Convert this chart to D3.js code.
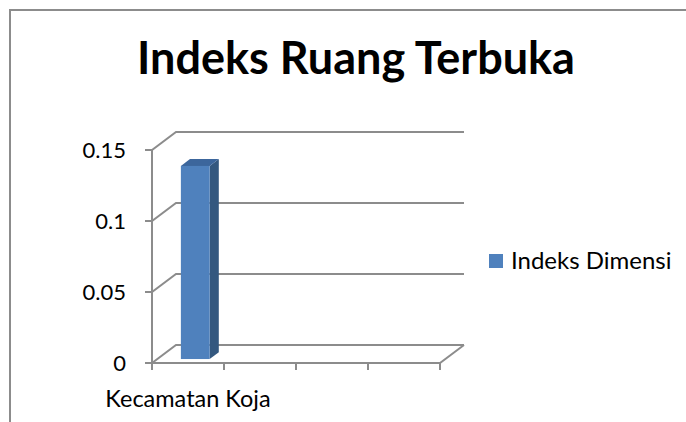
<!DOCTYPE html>
<html lang="en">
<head>
    <meta charset="UTF-8">
    <title>Indeks Ruang Terbuka</title>
    <script src="https://d3js.org/d3.v7.min.js"></script>
    <style>
        body {
            margin: 0;
            background: #fff;
        }
        text {
            font-family: Lato, "Open Sans", sans-serif;
            fill: #000;
        }
    </style>
</head>
<body>
    <svg id="chart" width="686" height="422"></svg>

    <script>
        // chart data
        const title = "Indeks Ruang Terbuka";
        const categories = ["Kecamatan Koja", "", "", ""];
        const seriesName = "Indeks Dimensi";
        const values = [0.136, null, null, null];
        const yTicks = [0, 0.05, 0.1, 0.15];

        const svg = d3.select("#chart");
        const gridColor = "#8c8c8c";

        // 3d depth offset of the back wall
        const depth = { dx: 24, dy: -18 };

        const x = d3.scaleBand()
            .domain(d3.range(categories.length))
            .range([152, 440])
            .padding(0);

        const y = d3.scaleLinear()
            .domain([0, 0.15])
            .range([363, 150]);

        // outer frame (top and left edges only visible)
        svg.append("path")
            .attr("d", "M10,422 V10 H686")
            .attr("fill", "none")
            .attr("stroke", gridColor)
            .attr("stroke-width", 2);

        // title
        svg.append("text")
            .attr("x", 356)
            .attr("y", 74)
            .attr("text-anchor", "middle")
            .attr("font-size", "45px")
            .attr("font-weight", "bold")
            .text(title);

        const grid = svg.append("g")
            .attr("stroke", gridColor)
            .attr("stroke-width", 2)
            .attr("fill", "none");

        // back wall gridlines + diagonals on the side wall
        yTicks.forEach(t => {
            let yf = y(t), yb = y(t) + depth.dy;
            let xl = x.range()[0], xb = xl + depth.dx;
            grid.append("path")
                .attr("d", `M${xl - 7},${yf} H${xl} L${xb},${yb} H${x.range()[1] + depth.dx}`);
        });

        // floor front edge and right diagonal
        let x0 = x.range()[0], x1 = x.range()[1];
        grid.append("path")
            .attr("d", `M${x0},${y(0)} H${x1} L${x1 + depth.dx},${y(0) + depth.dy}`);

        // vertical axis line
        grid.append("line")
            .attr("x1", x0).attr("x2", x0)
            .attr("y1", y(0.15)).attr("y2", y(0));

        // category ticks
        d3.range(categories.length + 1).forEach(i => {
            let tx = x0 + i * x.bandwidth();
            grid.append("line")
                .attr("x1", tx).attr("x2", tx)
                .attr("y1", y(0)).attr("y2", y(0) + 7);
        });

        // y tick labels
        svg.append("g").selectAll("text")
            .data(yTicks)
            .join("text")
            .attr("x", 126)
            .attr("y", d => y(d) + 8)
            .attr("text-anchor", "end")
            .attr("font-size", "22px")
            .text(d => d);

        // category labels
        svg.append("g").selectAll("text")
            .data(categories)
            .join("text")
            .attr("x", (d, i) => x(i) + x.bandwidth() / 2)
            .attr("y", 407)
            .attr("text-anchor", "middle")
            .attr("font-size", "23.5px")
            .text(d => d);

        // 3d bars
        const f1 = 0.22, f2 = 0.6;
        const barW = x.bandwidth() / 2.5;
        const bars = svg.append("g");
        values.forEach((v, i) => {
            if (v == null) return;
            let bx = x(i) + (x.bandwidth() - barW) / 2 + f1 * depth.dx + 2;
            let by0 = y(0) + f1 * depth.dy;
            let byT = y(v) + f1 * depth.dy;
            let ddx = (f2 - f1) * depth.dx, ddy = (f2 - f1) * depth.dy;

            // side face
            bars.append("path")
                .attr("d", `M${bx + barW},${by0} V${byT} l${ddx},${ddy} V${by0 + ddy} Z`)
                .attr("fill", "#34587f");
            // top face
            bars.append("path")
                .attr("d", `M${bx},${byT} H${bx + barW} l${ddx},${ddy} H${bx + ddx} Z`)
                .attr("fill", "#3c669c");
            // front face
            bars.append("rect")
                .attr("x", bx)
                .attr("y", byT)
                .attr("width", barW)
                .attr("height", by0 - byT)
                .attr("fill", "#4f81bd");
        });

        // legend
        svg.append("rect")
            .attr("x", 489)
            .attr("y", 254)
            .attr("width", 14)
            .attr("height", 14)
            .attr("fill", "#4f81bd");

        svg.append("text")
            .attr("x", 511)
            .attr("y", 269)
            .attr("font-size", "24px")
            .text(seriesName);
    </script>
</body>
</html>
